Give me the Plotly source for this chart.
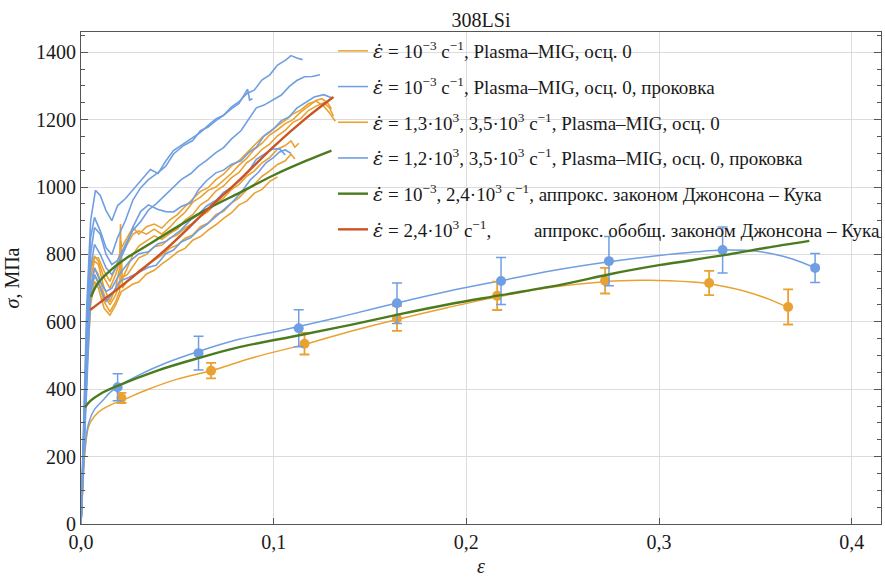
import plotly.graph_objects as go

# ---------------- data ----------------
# quasi-static (10^-3 1/s) mean points with error bars
qs_orange_x = [0.021, 0.0675, 0.116, 0.164, 0.216, 0.272, 0.326, 0.367]
qs_orange_y = [374, 455, 535, 610, 677, 722, 715, 644]
qs_orange_err = [15, 23, 32, 37, 42, 38, 36, 52]

qs_blue_x = [0.019, 0.061, 0.113, 0.164, 0.218, 0.274, 0.333, 0.381]
qs_blue_y = [406, 507, 581, 655, 721, 780, 813, 760]
qs_blue_err = [40, 50, 55, 60, 70, 73, 68, 43]

# quasi-static curves
qs_orange_curve_x = [0, 0.0008, 0.0015, 0.0025, 0.004, 0.007, 0.011, 0.016, 0.021, 0.035, 0.05,
                     0.0675, 0.09, 0.116, 0.14, 0.164, 0.19, 0.216, 0.245, 0.272, 0.29, 0.305,
                     0.326, 0.345, 0.358, 0.367]
qs_orange_curve_y = [0, 90, 170, 240, 290, 320, 340, 355, 366, 400, 430,
                     455, 495, 533, 572, 607, 642, 674, 703, 719, 723, 722,
                     713, 690, 665, 642]
qs_blue_curve_x = [0, 0.0008, 0.0015, 0.0025, 0.004, 0.007, 0.011, 0.015, 0.019, 0.03, 0.045,
                   0.061, 0.08, 0.1, 0.113, 0.14, 0.164, 0.19, 0.218, 0.245, 0.274, 0.3,
                   0.32, 0.333, 0.345, 0.358, 0.37, 0.381]
qs_blue_curve_y = [0, 100, 180, 250, 300, 340, 365, 390, 408, 442, 480,
                   512, 545, 570, 586, 622, 656, 690, 722, 752, 778, 797,
                   808, 813, 812, 803, 785, 760]

# dynamic curves, Plasma-MIG (orange)
dyn_o1_x = [0, 0.0015, 0.003, 0.005, 0.007, 0.009, 0.012, 0.015, 0.018, 0.021, 0.024, 0.027, 0.030, 0.034,
            0.038, 0.042, 0.046, 0.050, 0.054, 0.058, 0.062, 0.066, 0.070, 0.074, 0.078, 0.082, 0.086,
            0.090, 0.094, 0.098, 0.102, 0.106, 0.110, 0.114, 0.118, 0.122, 0.125, 0.128, 0.130]
dyn_o1_y = [0, 250, 550, 760, 795, 780, 730, 700, 740, 800, 830, 860, 870, 860,
            875, 860, 880, 905, 925, 955, 970, 990, 1000, 1020, 1040, 1065, 1085,
            1112, 1130, 1155, 1170, 1188, 1200, 1222, 1240, 1257, 1262, 1250, 1232]
dyn_o2_x = [0, 0.0015, 0.003, 0.005, 0.007, 0.009, 0.012, 0.015, 0.018, 0.020, 0.0205, 0.021, 0.024, 0.027,
            0.030, 0.034, 0.038, 0.042, 0.046, 0.050, 0.054, 0.058, 0.062, 0.066, 0.070, 0.074, 0.078,
            0.082, 0.086, 0.090, 0.094, 0.098, 0.102, 0.106, 0.110, 0.114, 0.118, 0.122, 0.126, 0.129, 0.131]
dyn_o2_y = [0, 230, 520, 730, 780, 770, 700, 660, 700, 760, 890, 720, 760, 800,
            825, 840, 855, 845, 862, 875, 902, 918, 947, 962, 988, 1003, 1027,
            1043, 1072, 1088, 1112, 1128, 1152, 1168, 1192, 1203, 1227, 1240, 1250, 1235, 1210]
dyn_o3_x = [0, 0.0015, 0.003, 0.005, 0.007, 0.009, 0.012, 0.015, 0.018, 0.021, 0.024, 0.027, 0.030, 0.034,
            0.038, 0.042, 0.046, 0.050, 0.054, 0.058, 0.062, 0.066, 0.070, 0.074, 0.078, 0.082, 0.086,
            0.090, 0.094, 0.098, 0.102, 0.106, 0.109, 0.111, 0.113]
dyn_o3_y = [0, 220, 500, 700, 760, 740, 680, 650, 680, 730, 740, 765, 790, 800,
            823, 828, 848, 858, 878, 893, 912, 928, 952, 968, 992, 1008, 1032,
            1048, 1072, 1088, 1112, 1123, 1137, 1118, 1130]
dyn_o4_x = [0, 0.0015, 0.003, 0.005, 0.007, 0.009, 0.012, 0.015, 0.018, 0.020, 0.0208, 0.0215, 0.024, 0.027,
            0.030, 0.034, 0.038, 0.042, 0.046, 0.050, 0.054, 0.058, 0.062, 0.066, 0.070, 0.074, 0.078,
            0.082, 0.086, 0.090, 0.094, 0.098, 0.102, 0.106, 0.109, 0.111]
dyn_o4_y = [0, 210, 480, 680, 740, 720, 660, 630, 660, 690, 840, 700, 722, 732,
            752, 768, 783, 798, 818, 828, 848, 858, 882, 893, 918, 928, 952,
            968, 992, 1008, 1032, 1048, 1067, 1078, 1097, 1083]
dyn_o5_x = [0, 0.0015, 0.003, 0.005, 0.007, 0.009, 0.012, 0.015, 0.018, 0.021, 0.024, 0.027, 0.030, 0.034,
            0.038, 0.042, 0.046, 0.050, 0.054, 0.058, 0.062, 0.066, 0.070, 0.074, 0.078, 0.082, 0.086,
            0.090, 0.094, 0.098, 0.102]
dyn_o5_y = [0, 200, 450, 650, 720, 700, 640, 620, 650, 690, 700, 712, 718, 742,
            753, 772, 788, 807, 818, 842, 853, 872, 888, 907, 923, 947, 958,
            982, 993, 1017, 1030]
dyn_o6_x = [0, 0.0015, 0.003, 0.005, 0.007, 0.009, 0.012, 0.015, 0.018, 0.021, 0.024, 0.027, 0.030, 0.034,
            0.038, 0.042, 0.046, 0.050, 0.054, 0.058, 0.062, 0.066, 0.070, 0.074, 0.078, 0.082, 0.086,
            0.090, 0.094, 0.098, 0.102, 0.106, 0.110, 0.114, 0.118, 0.122, 0.126, 0.129, 0.132]
dyn_o6_y = [0, 240, 540, 750, 790, 790, 750, 720, 760, 820, 850, 880, 860, 882,
            890, 878, 902, 918, 942, 963, 987, 998, 1022, 1038, 1062, 1078, 1102,
            1123, 1147, 1163, 1182, 1198, 1217, 1228, 1247, 1255, 1240, 1220, 1195]

# dynamic curves, Plasma-MIG + forging (blue)
dyn_b1_x = [0, 0.0015, 0.003, 0.005, 0.0075, 0.010, 0.013, 0.016, 0.019, 0.023, 0.027, 0.031, 0.036, 0.040,
            0.044, 0.048, 0.053, 0.058, 0.062, 0.066, 0.070, 0.074, 0.078, 0.082, 0.086, 0.090, 0.094,
            0.098, 0.102, 0.106, 0.109, 0.112, 0.115]
dyn_b1_y = [0, 300, 650, 900, 990, 975, 930, 900, 945, 965, 992, 1018, 1052, 1040,
            1077, 1108, 1127, 1148, 1162, 1183, 1202, 1213, 1237, 1253, 1277, 1288, 1318,
            1333, 1362, 1376, 1390, 1383, 1378]
dyn_b2_x = [0, 0.0015, 0.003, 0.005, 0.007, 0.010, 0.013, 0.016, 0.019, 0.023, 0.027, 0.031, 0.035, 0.040,
            0.044, 0.048, 0.053, 0.058, 0.062, 0.066, 0.070, 0.074, 0.078, 0.082, 0.085, 0.0865, 0.0875, 0.089]
dyn_b2_y = [0, 280, 600, 850, 910, 870, 820, 800, 850, 900, 962, 998, 1022, 1043,
            1062, 1098, 1122, 1138, 1167, 1178, 1197, 1213, 1232, 1248, 1277, 1290, 1258, 1262]
dyn_b3_x = [0, 0.0015, 0.003, 0.005, 0.007, 0.010, 0.013, 0.016, 0.019, 0.023, 0.027, 0.031, 0.035, 0.039,
            0.044, 0.048, 0.052, 0.057, 0.061, 0.065, 0.070, 0.074, 0.078, 0.083, 0.087, 0.091, 0.095,
            0.100, 0.104, 0.108, 0.112, 0.116, 0.120, 0.124]
dyn_b3_y = [0, 250, 550, 800, 880, 860, 800, 770, 782, 828, 872, 898, 932, 950,
            977, 998, 1022, 1040, 1062, 1078, 1102, 1117, 1142, 1167, 1202, 1235, 1243,
            1260, 1273, 1298, 1316, 1327, 1328, 1333]
dyn_b4_x = [0, 0.0015, 0.003, 0.005, 0.007, 0.010, 0.013, 0.016, 0.019, 0.023, 0.027, 0.031, 0.035, 0.040,
            0.044, 0.048, 0.052, 0.057, 0.061, 0.065, 0.070, 0.074, 0.078, 0.083, 0.087, 0.091, 0.095,
            0.100, 0.104, 0.108, 0.112, 0.117, 0.121, 0.126, 0.130]
dyn_b4_y = [0, 230, 500, 760, 830, 800, 760, 740, 770, 818, 882, 928, 947, 933,
            927, 926, 942, 953, 992, 1018, 1042, 1050, 1067, 1078, 1102, 1118, 1152,
            1173, 1197, 1208, 1234, 1253, 1267, 1274, 1265]
dyn_b5_x = [0, 0.0015, 0.003, 0.005, 0.007, 0.010, 0.013, 0.016, 0.020, 0.025, 0.030, 0.035, 0.040, 0.044,
            0.048, 0.052, 0.057, 0.061, 0.065, 0.070, 0.074, 0.078, 0.083, 0.087, 0.091, 0.095, 0.099,
            0.103, 0.106]
dyn_b5_y = [0, 220, 480, 700, 760, 720, 690, 700, 742, 778, 802, 808, 832, 838,
            855, 873, 903, 918, 943, 960, 984, 998, 1023, 1048, 1082, 1098, 1112,
            1114, 1095]
dyn_b6_x = [0, 0.0015, 0.003, 0.005, 0.007, 0.010, 0.013, 0.016, 0.020, 0.025, 0.030, 0.035, 0.039, 0.044,
            0.048, 0.052, 0.057, 0.061, 0.065, 0.070, 0.074, 0.078, 0.083, 0.088, 0.092, 0.096, 0.100,
            0.103, 0.106, 0.109]
dyn_b6_y = [0, 200, 450, 680, 740, 700, 660, 680, 720, 732, 748, 762, 768, 802,
            813, 837, 850, 872, 888, 912, 930, 952, 983, 1022, 1043, 1072, 1088,
            1104, 1110, 1100]

# Johnson-Cook approximations (green)
jc_qs_x = [0.002, 0.005, 0.01, 0.019, 0.04, 0.062, 0.08, 0.114, 0.14, 0.165, 0.191, 0.218, 0.25,
           0.275, 0.30, 0.333, 0.355, 0.378]
jc_qs_y = [346, 366, 386, 410, 456, 494, 522, 561, 591, 622, 652, 679, 711,
           742, 768, 797, 819, 840]
jc_dyn_x = [0.0052, 0.0088, 0.0156, 0.0244, 0.033, 0.0415, 0.048, 0.065, 0.083, 0.1, 0.117, 0.130]
jc_dyn_y = [674, 715, 754, 792, 822, 852, 875, 933, 985, 1035, 1078, 1108]
# generalized Johnson-Cook (red)
gjc_x = [0.0047, 0.024, 0.045, 0.065, 0.083, 0.1, 0.117, 0.131]
gjc_y = [635, 720, 820, 930, 1025, 1120, 1205, 1267]

x_tick_vals = [0, 0.1, 0.2, 0.3, 0.4]
x_tick_text = ["0,0", "0,1", "0,2", "0,3", "0,4"]
y_tick_vals = [0, 200, 400, 600, 800, 1000, 1200, 1400]

EPS_DOT = "<span style=\"font-family:'DejaVu Serif';font-style:italic\">ε̇</span>"
PAD = "\u00a0" * 9
legend_names = [
    EPS_DOT + " = 10<sup>−3</sup> с<sup>−1</sup>, Plasma–MIG, осц. 0",
    EPS_DOT + " = 10<sup>−3</sup> с<sup>−1</sup>, Plasma–MIG, осц. 0, проковка",
    EPS_DOT + " = 1,3·10<sup>3</sup>, 3,5·10<sup>3</sup> с<sup>−1</sup>, Plasma–MIG, осц. 0",
    EPS_DOT + " = 1,2·10<sup>3</sup>, 3,5·10<sup>3</sup> с<sup>−1</sup>, Plasma–MIG, осц. 0, проковка",
    EPS_DOT + " = 10<sup>−3</sup>, 2,4·10<sup>3</sup> с<sup>−1</sup>, аппрокс. законом Джонсона – Кука",
    EPS_DOT + " = 2,4·10<sup>3</sup> с<sup>−1</sup>," + PAD + "аппрокс. обобщ. законом Джонсона – Кука",
]

# ---------------- styles ----------------
ORANGE = "#E9A232"
BLUE = "#6F9FE2"
GREEN = "#4C7B1F"
RED = "#CC5323"
SERIF = "Liberation Serif"
TXT = "#1a1a1a"

fig = go.Figure()


def add_line(x, y, color, width, name=None, group=None, show=False, shape="linear"):
    fig.add_trace(go.Scatter(
        x=x, y=y, mode="lines", line=dict(color=color, width=width, shape=shape),
        name=name, legendgroup=group, showlegend=show, hoverinfo="skip"))


# quasi-static curves
add_line(qs_orange_curve_x, qs_orange_curve_y, ORANGE, 1.5, legend_names[0], "g1", True, "spline")
add_line(qs_blue_curve_x, qs_blue_curve_y, BLUE, 1.5, legend_names[1], "g2", True, "spline")

# dynamic orange curves
for i, (xx, yy) in enumerate([(dyn_o1_x, dyn_o1_y), (dyn_o2_x, dyn_o2_y), (dyn_o3_x, dyn_o3_y),
                              (dyn_o4_x, dyn_o4_y), (dyn_o5_x, dyn_o5_y), (dyn_o6_x, dyn_o6_y)]):
    add_line(xx, yy, ORANGE, 1.6, legend_names[2], "g3", i == 0)
# dynamic blue curves
for i, (xx, yy) in enumerate([(dyn_b1_x, dyn_b1_y), (dyn_b2_x, dyn_b2_y), (dyn_b3_x, dyn_b3_y),
                              (dyn_b4_x, dyn_b4_y), (dyn_b5_x, dyn_b5_y), (dyn_b6_x, dyn_b6_y)]):
    add_line(xx, yy, BLUE, 1.6, legend_names[3], "g4", i == 0)

# error-bar points
fig.add_trace(go.Scatter(
    x=qs_orange_x, y=qs_orange_y, mode="markers",
    marker=dict(color=ORANGE, size=10),
    error_y=dict(type="data", array=qs_orange_err, color=ORANGE, thickness=1.8, width=5),
    showlegend=False, legendgroup="g1", hoverinfo="skip"))
fig.add_trace(go.Scatter(
    x=qs_blue_x, y=qs_blue_y, mode="markers",
    marker=dict(color=BLUE, size=10),
    error_y=dict(type="data", array=qs_blue_err, color=BLUE, thickness=1.5, width=5),
    showlegend=False, legendgroup="g2", hoverinfo="skip"))

# approximations
add_line(jc_qs_x, jc_qs_y, GREEN, 2.4, legend_names[4], "g5", True, "spline")
add_line(jc_dyn_x, jc_dyn_y, GREEN, 2.4, legend_names[4], "g5", False, "spline")
add_line(gjc_x, gjc_y, RED, 2.4, legend_names[5], "g6", True, "spline")

fig.update_layout(
    width=885, height=577,
    margin=dict(l=81, r=4, t=32, b=53, autoexpand=False),
    paper_bgcolor="white", plot_bgcolor="white",
    font=dict(family=SERIF, size=20, color=TXT),
    title=dict(text="308LSi", x=0.5, xref="paper", y=1 - 20 / 577, yref="container",
               yanchor="middle", xanchor="center", font=dict(size=20, family=SERIF, color=TXT)),
    legend=dict(x=0.315, xanchor="left", y=1.0, yanchor="top",
                bgcolor="rgba(0,0,0,0)", font=dict(size=19, family=SERIF, color=TXT),
                tracegroupgap=8, itemwidth=30),
    showlegend=True,
)
fig.update_xaxes(
    range=[0, 0.4152], tickvals=x_tick_vals, ticktext=x_tick_text, automargin=False,
    tickfont=dict(family=SERIF, size=20, color=TXT),
    showgrid=True, gridcolor="#DCDCDC", gridwidth=1, zeroline=False,
    showline=True, linecolor="#555555", linewidth=1.2, mirror=True,
    ticks="inside", ticklen=6, tickcolor="#555555",
    title=dict(text="<i>ε</i>", standoff=20, font=dict(size=20, family=SERIF, color=TXT)),
)
fig.update_yaxes(
    range=[0, 1460], tickvals=y_tick_vals, automargin=False,
    tickfont=dict(family=SERIF, size=20, color=TXT),
    showgrid=True, gridcolor="#DCDCDC", gridwidth=1, zeroline=False,
    showline=True, linecolor="#555555", linewidth=1.2, mirror="allticks",
    ticks="inside", ticklen=7, tickcolor="#555555",
    minor=dict(dtick=50, ticks="inside", ticklen=4, tickcolor="#555555", showgrid=False),
    title=dict(text="<i>σ</i>, МПа", standoff=10, font=dict(size=20, family=SERIF, color=TXT)),
)

fig.write_html("out.html", config={"displayModeBar": False},
               post_script="document.body.style.margin='0';document.body.style.padding='0';")
